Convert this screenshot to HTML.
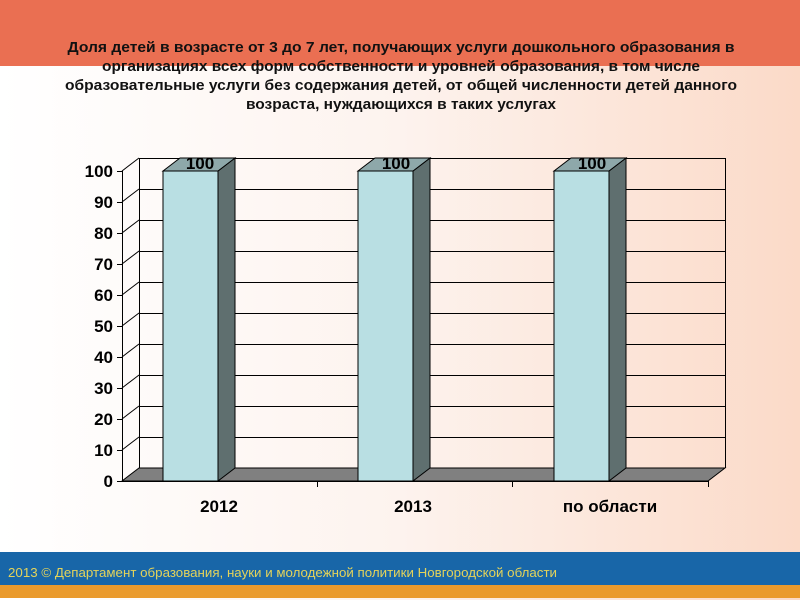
<!DOCTYPE html>
<html><head><meta charset="utf-8"><style>
html,body{margin:0;padding:0;width:800px;height:600px;overflow:hidden}
</style></head><body>
<svg width="800" height="600" xmlns="http://www.w3.org/2000/svg" font-family="Liberation Sans Narrow, Liberation Sans, sans-serif">
<defs>
<linearGradient id="bg" x1="0" y1="0" x2="1" y2="0">
<stop offset="0" stop-color="#ffffff"/><stop offset="0.5" stop-color="#fdf3ee"/><stop offset="1" stop-color="#fbdac8"/>
</linearGradient>
</defs>
<rect width="800" height="600" fill="url(#bg)"/>
<rect width="800" height="66" fill="#ea6f52"/>
<g font-weight="bold" font-size="15" text-anchor="middle" fill="#111">
<text x="401" y="52" textLength="667" lengthAdjust="spacingAndGlyphs">Доля детей в возрасте от 3 до 7 лет, получающих услуги дошкольного образования в</text>
<text x="401" y="71" textLength="598" lengthAdjust="spacingAndGlyphs">организациях всех форм собственности и уровней образования, в том числе</text>
<text x="401" y="90" textLength="672" lengthAdjust="spacingAndGlyphs">образовательные услуги без содержания детей, от общей численности детей данного</text>
<text x="401" y="109" textLength="310" lengthAdjust="spacingAndGlyphs">возраста, нуждающихся в таких услугах</text>
</g>
<!-- back wall grid -->
<g stroke="#000" stroke-width="1" fill="none">
<line x1="139.5" y1="158" x2="139.5" y2="468"/>
<line x1="139" y1="158.5" x2="725" y2="158.5"/>
<line x1="139" y1="189.5" x2="725" y2="189.5"/>
<line x1="139" y1="220.5" x2="725" y2="220.5"/>
<line x1="139" y1="251.5" x2="725" y2="251.5"/>
<line x1="139" y1="282.5" x2="725" y2="282.5"/>
<line x1="139" y1="313.5" x2="725" y2="313.5"/>
<line x1="139" y1="344.5" x2="725" y2="344.5"/>
<line x1="139" y1="375.5" x2="725" y2="375.5"/>
<line x1="139" y1="406.5" x2="725" y2="406.5"/>
<line x1="139" y1="437.5" x2="725" y2="437.5"/>
<line x1="725.5" y1="158" x2="725.5" y2="468"/>
<!-- side wall diagonals -->
<line x1="122" y1="171" x2="139" y2="158"/>
<line x1="122" y1="202" x2="139" y2="189"/>
<line x1="122" y1="233" x2="139" y2="220"/>
<line x1="122" y1="264" x2="139" y2="251"/>
<line x1="122" y1="295" x2="139" y2="282"/>
<line x1="122" y1="326" x2="139" y2="313"/>
<line x1="122" y1="357" x2="139" y2="344"/>
<line x1="122" y1="388" x2="139" y2="375"/>
<line x1="122" y1="419" x2="139" y2="406"/>
<line x1="122" y1="450" x2="139" y2="437"/>
</g>
<!-- floor -->
<polygon points="122,481 139,468 725,468 708,481" fill="#808080" stroke="#000"/>
<!-- bars -->
<g stroke="#000" stroke-width="1">
<g>
<polygon points="218,171 235,158 235,468 218,481" fill="#5f6f6f"/>
<polygon points="163,171 180,158 235,158 218,171" fill="#8ea8aa"/>
<rect x="163" y="171" width="55" height="310" fill="#b9dfe3"/>
</g>
<g>
<polygon points="413,171 430,158 430,468 413,481" fill="#5f6f6f"/>
<polygon points="358,171 375,158 430,158 413,171" fill="#8ea8aa"/>
<rect x="358" y="171" width="55" height="310" fill="#b9dfe3"/>
</g>
<g>
<polygon points="609,171 626,158 626,468 609,481" fill="#5f6f6f"/>
<polygon points="554,171 571,158 626,158 609,171" fill="#8ea8aa"/>
<rect x="554" y="171" width="55" height="310" fill="#b9dfe3"/>
</g>
</g>
<!-- axes -->
<g stroke="#000" stroke-width="1">
<line x1="122.5" y1="171" x2="122.5" y2="481"/>
<line x1="122" y1="481.5" x2="708" y2="481.5"/>
<line x1="117" y1="171.5" x2="122" y2="171.5"/><line x1="117" y1="202.5" x2="122" y2="202.5"/>
<line x1="117" y1="233.5" x2="122" y2="233.5"/><line x1="117" y1="264.5" x2="122" y2="264.5"/>
<line x1="117" y1="295.5" x2="122" y2="295.5"/><line x1="117" y1="326.5" x2="122" y2="326.5"/>
<line x1="117" y1="357.5" x2="122" y2="357.5"/><line x1="117" y1="388.5" x2="122" y2="388.5"/>
<line x1="117" y1="419.5" x2="122" y2="419.5"/><line x1="117" y1="450.5" x2="122" y2="450.5"/>
<line x1="117" y1="481.5" x2="122" y2="481.5"/>
<line x1="317.5" y1="481" x2="317.5" y2="487"/><line x1="512.5" y1="481" x2="512.5" y2="487"/><line x1="708.5" y1="481" x2="708.5" y2="487"/>
</g>
<g font-weight="bold" font-size="17" text-anchor="end" fill="#000">
<text x="113" y="177">100</text><text x="113" y="208">90</text><text x="113" y="239">80</text>
<text x="113" y="270">70</text><text x="113" y="301">60</text><text x="113" y="332">50</text>
<text x="113" y="363">40</text><text x="113" y="394">30</text><text x="113" y="425">20</text>
<text x="113" y="456">10</text><text x="113" y="487">0</text>
</g>
<g font-weight="bold" font-size="17" text-anchor="middle" fill="#000">
<text x="200" y="169">100</text><text x="396" y="169">100</text><text x="592" y="169">100</text>
<text x="219" y="512">2012</text><text x="413" y="512">2013</text><text x="610" y="512">по области</text>
</g>
<rect x="0" y="552" width="800" height="33" fill="#1866a8"/>
<rect x="0" y="585" width="800" height="13" fill="#ea9a2c"/>
<text x="8" y="577" font-size="13" fill="#e4d35a" textLength="549" lengthAdjust="spacingAndGlyphs">2013 © Департамент образования, науки и молодежной политики Новгородской области</text>
</svg>
</body></html>
